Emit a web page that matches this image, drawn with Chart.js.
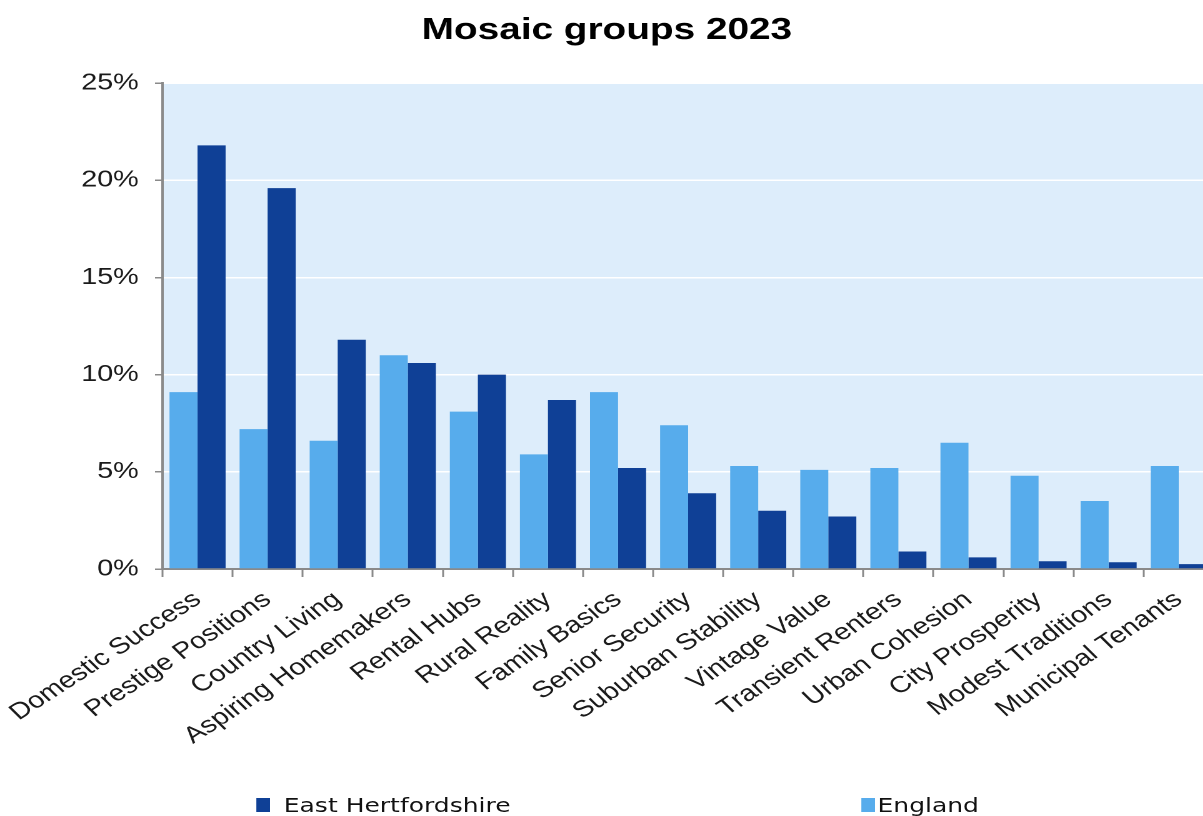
<!DOCTYPE html>
<html>
<head>
<meta charset="utf-8">
<script src="https://cdn.jsdelivr.net/npm/chart.js@4/dist/chart.umd.min.js"></script>
<style>
  html, body { margin: 0; padding: 0; background: #fff; overflow: hidden; width: 1203px; height: 816px; }
  #wrap { position: absolute; left: 0; top: 0; width: 971px; height: 816px; transform: scaleX(1.25); transform-origin: 0 0; }
  #c { position: absolute; left: 0; top: 0; }
  .lg { position: absolute; top: 795px; height: 20px; line-height: 20px; font-family: "DejaVu Sans", sans-serif; font-size: 20px; color: #111; white-space: nowrap; }
  .lg .bx { position: absolute; top: 3px; width: 11px; height: 14px; }
  .lg .tx { position: absolute; top: 0; }
</style>
</head>
<body>
<div id="wrap">
  <canvas id="c" width="971" height="816"></canvas>
  <div class="lg" style="left:205px"><span class="bx" style="left:0;background:#0F4096"></span><span class="tx" id="lg1" style="left:22px"></span></div>
  <div class="lg" style="left:689px"><span class="bx" style="left:0;background:#57ACEC"></span><span class="tx" id="lg2" style="left:13px"></span></div>
</div>
<script>
const titleText = "Mosaic groups 2023";
const categories = ["Domestic Success", "Prestige Positions", "Country Living", "Aspiring Homemakers", "Rental Hubs", "Rural Reality", "Family Basics", "Senior Security", "Suburban Stability", "Vintage Value", "Transient Renters", "Urban Cohesion", "City Prosperity", "Modest Traditions", "Municipal Tenants"];
const seriesNames = ["England", "East Hertfordshire"];
const englandValues = [9.1, 7.2, 6.6, 11.0, 8.1, 5.9, 9.1, 7.4, 5.3, 5.1, 5.2, 6.5, 4.8, 3.5, 5.3];
const eastHertsValues = [21.8, 19.6, 11.8, 10.6, 10.0, 8.7, 5.2, 3.9, 3.0, 2.7, 0.9, 0.6, 0.4, 0.35, 0.25];
const yTicks = [0, 5, 10, 15, 20, 25];
const colors = { england: "#57ACEC", eastHerts: "#0F4096", plot: "#DDEDFB", axis: "#8A8A8A" };

document.getElementById("lg1").textContent = seriesNames[1];
document.getElementById("lg2").textContent = seriesNames[0];

const plotBg = {
  id: "plotBg",
  beforeDraw(chart) {
    const { ctx, chartArea: { left, top, width, height } } = chart;
    ctx.save();
    ctx.fillStyle = colors.plot;
    ctx.fillRect(left, top, width, height);
    ctx.restore();
  }
};

new Chart(document.getElementById("c"), {
  type: "bar",
  data: {
    labels: categories,
    datasets: [
      { label: seriesNames[0], data: englandValues, backgroundColor: colors.england, borderWidth: 0, categoryPercentage: 0.8, barPercentage: 1.0 },
      { label: seriesNames[1], data: eastHertsValues, backgroundColor: colors.eastHerts, borderWidth: 0, categoryPercentage: 0.8, barPercentage: 1.0 }
    ]
  },
  options: {
    responsive: false,
    animation: false,
    devicePixelRatio: 2,
    layout: { padding: { left: 0, right: 0, top: 0, bottom: 0 } },
    plugins: {
      legend: { display: false },
      tooltip: { enabled: false },
      title: {
        display: true,
        text: titleText,
        color: "#000",
        font: { family: "'Liberation Sans', Arial, sans-serif", size: 31, weight: "bold" },
        padding: { top: 12, bottom: 34 }
      }
    },
    scales: {
      x: {
        offset: true,
        grid: { offset: true, drawOnChartArea: false, drawTicks: true, tickLength: 8, tickColor: colors.axis, tickWidth: 1.5 },
        border: { display: true, color: colors.axis, width: 2 },
        ticks: {
          autoSkip: false,
          minRotation: 39,
          maxRotation: 39,
          padding: 9,
          color: "#1a1a1a",
          font: { family: "'Liberation Sans', Arial, sans-serif", size: 23 }
        },
        afterFit(scale) { scale.height = 247; scale.paddingLeft = 0; scale.paddingRight = 0; }
      },
      y: {
        min: 0,
        max: 25,
        afterBuildTicks(scale) { scale.ticks = yTicks.map(v => ({ value: v })); },
        grid: { color: "#ffffff", lineWidth: 1.5, drawTicks: true, tickLength: 6, tickColor: colors.axis, tickWidth: 1.5 },
        border: { display: true, color: colors.axis, width: 2 },
        ticks: {
          padding: 13,
          color: "#1a1a1a",
          font: { family: "'Liberation Sans', Arial, sans-serif", size: 23 },
          callback: (v) => v + "%"
        },
        afterFit(scale) { scale.width = 130; }
      }
    }
  },
  plugins: [plotBg]
});
</script>
</body>
</html>
